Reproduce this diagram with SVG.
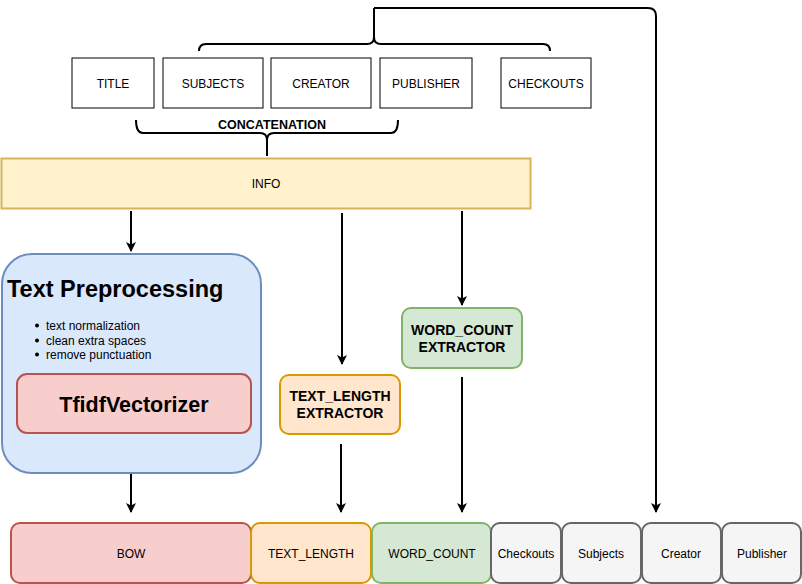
<svg xmlns="http://www.w3.org/2000/svg" width="802" height="584" viewBox="0 0 802 584">
<style>
text{font-family:"Liberation Sans",Arial,sans-serif;fill:#000}
.c{text-anchor:middle;dominant-baseline:central}
.s12{font-size:12px}
.b{font-weight:bold}
.ln{fill:none;stroke:#000;stroke-width:2}
.wb{fill:#fff;stroke:#000;stroke-width:1}
.gr{fill:#f5f5f5;stroke:#666;stroke-width:2}
</style>
<defs>
<marker id="ah" markerWidth="10" markerHeight="10" viewBox="0 0 10 10" refX="9" refY="5" orient="auto" markerUnits="userSpaceOnUse">
<path d="M0,0 L10,5 L0,10 L2.5,5 Z" fill="#000"/>
</marker>
</defs>
<g id="connectors">
<path class="ln" d="M199,51 Q199,44 206,44 L367,44 Q374,44 374,37 L374,8 M374,37 Q374,44 381,44 L543,44 Q550,44 550,51"/>
<path class="ln" d="M374,8 L648,8 Q656,8 656,16 L656,512" marker-end="url(#ah)"/>
<path class="ln" d="M136,120 Q136,133 143,133 L260,133 Q267,133 267,140 L267,156 M267,140 Q267,133 274,133 L391,133 Q398,133 398,120"/>
<path class="ln" d="M131,211 L131,251" marker-end="url(#ah)"/>
<path class="ln" d="M342,213 L342,364" marker-end="url(#ah)"/>
<path class="ln" d="M462,211 L462,305" marker-end="url(#ah)"/>
<path class="ln" d="M131,474 L131,512" marker-end="url(#ah)"/>
<path class="ln" d="M341,444 L341,512" marker-end="url(#ah)"/>
<path class="ln" d="M462,377 L462,512" marker-end="url(#ah)"/>
</g>
<text class="c b" x="272" y="125" font-size="12.5">CONCATENATION</text>
<g id="title"><rect class="wb" x="72" y="58" width="82" height="50"/><text class="c s12" x="113" y="84">TITLE</text></g>
<g id="subjects"><rect class="wb" x="163" y="58" width="100" height="50"/><text class="c s12" x="213" y="84">SUBJECTS</text></g>
<g id="creator"><rect class="wb" x="271" y="58" width="100" height="50"/><text class="c s12" x="321" y="84">CREATOR</text></g>
<g id="publisher"><rect class="wb" x="380" y="58" width="92" height="50"/><text class="c s12" x="426" y="84">PUBLISHER</text></g>
<g id="checkouts"><rect class="wb" x="501" y="58" width="90" height="50"/><text class="c s12" x="546" y="84">CHECKOUTS</text></g>
<g id="info"><rect x="1.5" y="158.5" width="529" height="50" fill="#fff2cc" stroke="#d6b656" stroke-width="2"/><text class="c s12" x="266" y="184">INFO</text></g>
<g id="text-preprocessing">
<rect x="2" y="254" width="259" height="219" rx="30" fill="#dae8fc" stroke="#6c8ebf" stroke-width="2"/>
<text x="7" y="297" font-size="23.5" class="b">Text Preprocessing</text>
<circle cx="37" cy="325.5" r="2" fill="#000"/><text x="46" y="330" class="s12">text normalization</text>
<circle cx="37" cy="340.5" r="2" fill="#000"/><text x="46" y="345" class="s12">clean extra spaces</text>
<circle cx="37" cy="354.5" r="2" fill="#000"/><text x="46" y="359" class="s12">remove punctuation</text>
</g>
<g id="tfidf"><rect x="17" y="374" width="234" height="59" rx="10" fill="#f8cecc" stroke="#b85450" stroke-width="2"/><text class="c b" x="134" y="405" font-size="21.5">TfidfVectorizer</text></g>
<g id="text-length-extractor"><rect x="280" y="375" width="120" height="59" rx="9" fill="#ffe6cc" stroke="#d79b00" stroke-width="2"/><text class="b" x="340" y="401" font-size="14" text-anchor="middle">TEXT_LENGTH</text><text class="b" x="340" y="418" font-size="14" text-anchor="middle">EXTRACTOR</text></g>
<g id="word-count-extractor"><rect x="402" y="308" width="120" height="60" rx="9" fill="#d5e8d4" stroke="#82b366" stroke-width="2"/><text class="b" x="462" y="335" font-size="14" text-anchor="middle">WORD_COUNT</text><text class="b" x="462" y="352" font-size="14" text-anchor="middle">EXTRACTOR</text></g>
<g id="bow"><rect x="11" y="523" width="240" height="60" rx="9" fill="#f8cecc" stroke="#b85450" stroke-width="2"/><text class="c s12" x="131" y="554">BOW</text></g>
<g id="text-length"><rect x="251" y="523" width="120" height="60" rx="9" fill="#ffe6cc" stroke="#d79b00" stroke-width="2"/><text class="c s12" x="311" y="554">TEXT_LENGTH</text></g>
<g id="word-count"><rect x="372" y="523" width="119" height="60" rx="9" fill="#d5e8d4" stroke="#82b366" stroke-width="2"/><text class="c s12" x="432" y="554">WORD_COUNT</text></g>
<g id="checkouts-out"><rect class="gr" x="491" y="523" width="70" height="60" rx="9"/><text class="c s12" x="526" y="554">Checkouts</text></g>
<g id="subjects-out"><rect class="gr" x="562" y="523" width="79" height="60" rx="9"/><text class="c s12" x="601" y="554">Subjects</text></g>
<g id="creator-out"><rect class="gr" x="642" y="523" width="79" height="60" rx="9"/><text class="c s12" x="681" y="554">Creator</text></g>
<g id="publisher-out"><rect class="gr" x="722" y="523" width="79" height="60" rx="9"/><text class="c s12" x="762" y="554">Publisher</text></g>
</svg>
